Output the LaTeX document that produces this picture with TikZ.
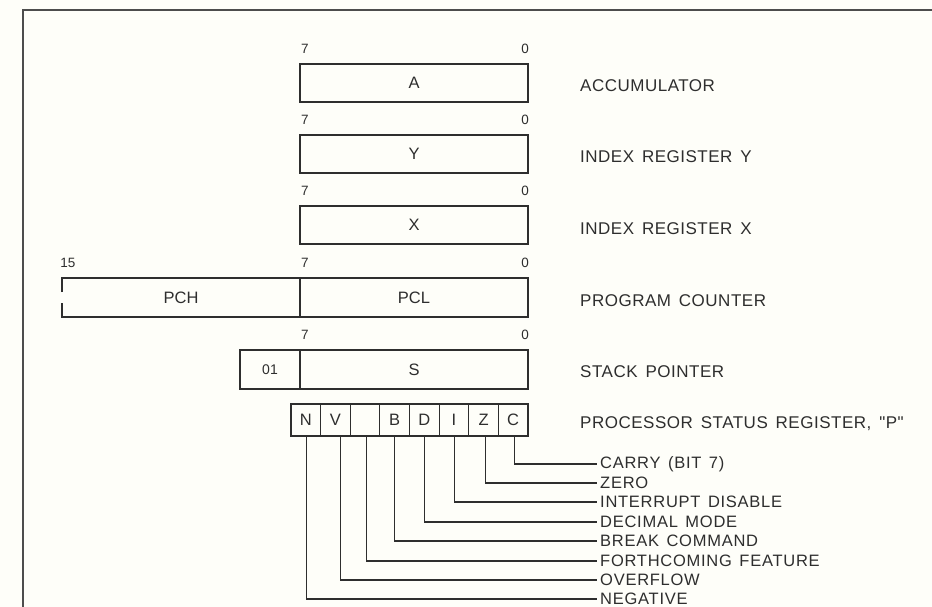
\documentclass[tikz,border=0pt]{standalone}
\usepackage{fontspec}
\setmainfont{Liberation Sans}
\newfontfamily\labfont[LetterSpace=3.0,WordSpace=1.5]{Liberation Sans}
\newfontfamily\flabfont[LetterSpace=4.5,WordSpace=1.4]{Liberation Sans}
\definecolor{ink}{HTML}{2E2E2E}
\definecolor{paper}{HTML}{FEFEF9}
\begin{document}
\begin{tikzpicture}[x=1pt,y=-1pt,
  reg/.style={draw=ink,line width=1.2pt,inner sep=0pt,outer sep=0pt,anchor=north west,
    minimum height=38pt,text=ink,font=\fontsize{16.5}{16.5}\selectfont},
  flag/.style={draw=ink,line width=1.1pt,inner sep=0pt,outer sep=0pt,anchor=north west,
    minimum width=29.625pt,minimum height=32pt,text=ink,font=\fontsize{16.5}{16.5}\selectfont},
  bit/.style={text=ink,inner sep=0pt,font=\fontsize{13.5}{13.5}\selectfont},
  rlab/.style={text=ink,inner sep=0pt,anchor=west,font=\labfont\fontsize{17}{17}\selectfont},
  flab/.style={text=ink,inner sep=3pt,anchor=west,font=\flabfont\fontsize{16.5}{16.5}\selectfont},
  wire/.style={draw=ink,line width=1.1pt}]
\fill[paper] (0,0) rectangle (932,607);
\useasboundingbox (0,0) rectangle (932,607);
% frame
\draw[draw=ink!85,line width=2pt] (23,607) -- (23,10) -- (932,10);

% accumulator
\node[bit] (a7) at (305,49) {7};
\node[bit] (a0) at (525,49) {0};
\node[reg,minimum width=228pt] (A) at (300,64) {A};
\node[rlab] (lA) at (580,86) {ACCUMULATOR};
% Y
\node[bit] (y7) at (305,120) {7};
\node[bit] (y0) at (525,120) {0};
\node[reg,minimum width=228pt] (Y) at (300,135) {Y};
\node[rlab] (lY) at (580,157) {INDEX REGISTER Y};
% X
\node[bit] (x7) at (305,191) {7};
\node[bit] (x0) at (525,191) {0};
\node[reg,minimum width=228pt] (X) at (300,206) {X};
\node[rlab] (lX) at (580,229) {INDEX REGISTER X};
% PC
\node[bit] (p15) at (68,263) {15};
\node[bit] (p7) at (305,263) {7};
\node[bit] (p0) at (525,263) {0};
\node[reg,draw=none,minimum width=238pt,minimum height=39pt] (PCH) at (62,278) {PCH};
\node[reg,minimum width=228pt,minimum height=39pt] (PCL) at (300,278) {PCL};
\draw[draw=ink,line width=1.2pt] ([yshift=-14pt]PCH.north west) -- (PCH.north west) -- (PCH.north east);
\draw[draw=ink,line width=1.2pt] ([yshift=14pt]PCH.south west) -- (PCH.south west) -- (PCH.south east);
\node[rlab] (lPC) at (580,301) {PROGRAM COUNTER};
% S
\node[bit] (s7) at (305,335) {7};
\node[bit] (s0) at (525,335) {0};
\node[reg,minimum width=60pt,minimum height=39pt,font=\fontsize{14}{14}\selectfont] (S01) at (240,350) {01};
\node[reg,minimum width=228pt,minimum height=39pt] (S) at (300,350) {S};
\node[rlab] (lS) at (580,372) {STACK POINTER};
% P
\node[flag] (cN) at (291,404) {N};
\node[flag] (cV) at (320.625,404) {V};
\node[flag] (cU) at (350.25,404) {};
\node[flag] (cB) at (379.875,404) {B};
\node[flag] (cD) at (409.5,404) {D};
\node[flag] (cI) at (439.125,404) {I};
\node[flag] (cZ) at (468.75,404) {Z};
\node[flag] (cC) at (498.375,404) {C};
\node[rlab] (lP) at (580,424) {PROCESSOR STATUS REGISTER, "P"};
% flag labels
\node[flab] (fC) at (597,464) {CARRY (BIT 7)};
\node[flab] (fZ) at (597,483) {ZERO};
\node[flab] (fI) at (597,502) {INTERRUPT DISABLE};
\node[flab] (fD) at (597,522) {DECIMAL MODE};
\node[flab] (fB) at (597,541) {BREAK COMMAND};
\node[flab] (fU) at (597,561) {FORTHCOMING FEATURE};
\node[flab] (fV) at (597,580) {OVERFLOW};
\node[flab] (fN) at (597,599) {NEGATIVE};
% wires
\draw[wire] ([xshift=1.5pt]cC.south) |- (fC.west);
\draw[wire] ([xshift=1.5pt]cZ.south) |- (fZ.west);
\draw[wire] ([xshift=1pt]cI.south) |- (fI.west);
\draw[wire] (cD.south) |- (fD.west);
\draw[wire] (cB.south) |- (fB.west);
\draw[wire] ([xshift=1.5pt]cU.south) |- (fU.west);
\draw[wire] ([xshift=5pt]cV.south) |- (fV.west);
\draw[wire] ([xshift=1pt]cN.south) |- (fN.west);
\end{tikzpicture}
\end{document}
